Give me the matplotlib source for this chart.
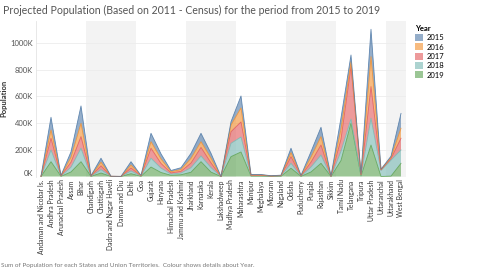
import matplotlib.pyplot as plt
import numpy as np
from matplotlib.patches import Patch

plt.rcParams['font.family'] = ['Lato', 'DejaVu Sans']

states = ["Andaman and Nicobar Is.", "Andhra Pradesh", "Arunachal Pradesh", "Assam", "Bihar",
          "Chandigarh", "Chattisgarh", "Dadra and Nagar Haveli", "Daman and Diu", "Delhi",
          "Goa", "Gujarat", "Haryana", "Himachal Pradesh", "Jammu and Kashmir",
          "Jharkhand", "Karnataka", "Kerala", "Lakshadweep", "Madhya Pradesh",
          "Maharashtra", "Manipur", "Meghalaya", "Mizoram", "Nagaland",
          "Odisha", "Puducherry", "Punjab", "Rajasthan", "Sikkim",
          "Tamil Nadu", "Telangana", "Tripura", "Uttar Pradesh", "Uttaranchal",
          "Uttarakhand", "West Bengal"]

# population in thousands
y2019 = [0.4, 111, 1.6, 34, 111, 1.2, 26, 0.4, 0.2, 21,
         1.6, 71, 30, 9, 13, 32, 111, 33, 0.0, 149,
         184, 3, 3, 1.2, 2, 62, 1.6, 34, 99, 0.6,
         120, 401, 4, 236, 0, 3, 99]
y2018 = [0.4, 88, 1.6, 36, 101, 1.2, 26, 0.4, 0.2, 21,
         1.6, 66, 33, 9, 13, 34, 43, 34, 0.0, 100,
         112, 3, 3, 1.2, 2, 37, 1.6, 37, 62, 0.6,
         70, 30, 4, 201, 45, 120, 100]
y2017 = [0.4, 88, 1.6, 37, 87, 1.2, 28, 0.4, 0.2, 22,
         1.6, 75, 35, 9, 13, 35, 64, 35, 0.0, 87,
         113, 3, 3, 1.2, 2, 50, 1.6, 37, 75, 0.6,
         90, 393, 4, 237, 4, 12, 88]
y2016 = [0.4, 62, 1.6, 37, 100, 1.2, 27, 0.4, 0.2, 22,
         1.6, 49, 34, 9, 13, 35, 43, 35, 0.0, 50,
         105, 3, 3, 1.2, 2, 30, 1.6, 37, 63, 0.6,
         75, 37, 4, 225, 3, 8, 75]
y2015 = [0.4, 95, 1.6, 41, 130, 1.2, 30, 0.4, 0.2, 25,
         1.6, 63, 38, 9, 14, 38, 63, 37, 0.0, 25,
         90, 3, 3, 1.2, 2, 33, 1.6, 41, 70, 0.6,
         85, 50, 4, 205, 3, 9, 111]

years = ["2015", "2016", "2017", "2018", "2019"]
colors = {"2015": "#4e79a7", "2016": "#f28e2b", "2017": "#e15759",
          "2018": "#76b7b2", "2019": "#59a14f"}

fig = plt.figure(figsize=(4.8, 2.69), dpi=100)
ax = fig.add_axes([36 / 480, 1 - 176.5 / 269, 370 / 480, 155.5 / 269])

x = np.arange(len(states))
# stacked bottom to top: 2019, 2018, 2017, 2016, 2015
layers = [y2019, y2018, y2017, y2016, y2015]
order = ["2019", "2018", "2017", "2016", "2015"]
ax.stackplot(x, *layers, colors=[colors[k] for k in order], alpha=0.6, linewidth=0, zorder=2)
tops = np.cumsum(np.array(layers, dtype=float), axis=0)
for k, top in zip(order, tops):
    ax.plot(x, top, color=colors[k], lw=0.6, alpha=0.85, zorder=3)

# alternating shaded bands every 5 categories
for start in range(5, len(states), 10):
    ax.axvspan(start - 0.5, min(start + 4.5, len(states) - 0.5), color="#f3f3f3", lw=0, zorder=0)

ax.set_xlim(-0.5, len(states) - 0.5)
ax.set_ylim(0, 1166)
ax.set_yticks([0, 200, 400, 600, 800, 1000])
ax.set_yticklabels(["0K", "200K", "400K", "600K", "800K", "1000K"], fontsize=5.5, color="#555555")
ax.get_yticklabels()[0].set_va("bottom")
ax.set_xticks(x)
ax.set_xticklabels(states, rotation=90, fontsize=4.9, color="#333333")
ax.tick_params(length=0, pad=2)
ax.yaxis.grid(True, color="#ececec", lw=0.6)
ax.set_axisbelow(True)
for s in ["top", "right", "bottom"]:
    ax.spines[s].set_visible(False)
ax.spines["left"].set_color("#e4e4e4")
ax.spines["left"].set_linewidth(0.6)
ax.set_ylabel("Population", fontsize=5.5, fontweight="bold", color="#333333", labelpad=2)

fig.text(3 / 480, 1 - 10 / 269,
         "Projected Population (Based on 2011 - Census) for the period from 2015 to 2019",
         fontsize=7.6, color="#555555", va="center", ha="left")
fig.text(1 / 480, 1 - 265 / 269,
         "Sum of Population for each States and Union Territories.  Colour shows details about Year.",
         fontsize=4.6, color="#777777", va="center", ha="left")

handles = [Patch(facecolor=colors[y], alpha=0.6, edgecolor="none") for y in years]
leg = fig.legend(handles, years, loc="upper left", bbox_to_anchor=(408 / 480, 1 - 18 / 269),
                 frameon=False, fontsize=5.5, title="Year", alignment="left",
                 handlelength=1.0, handleheight=1.0, handletextpad=0.6, labelspacing=0.3)
leg.get_title().set_fontweight("bold")
leg.get_title().set_fontsize(5.5)

fig.savefig("out.png", dpi=100)
